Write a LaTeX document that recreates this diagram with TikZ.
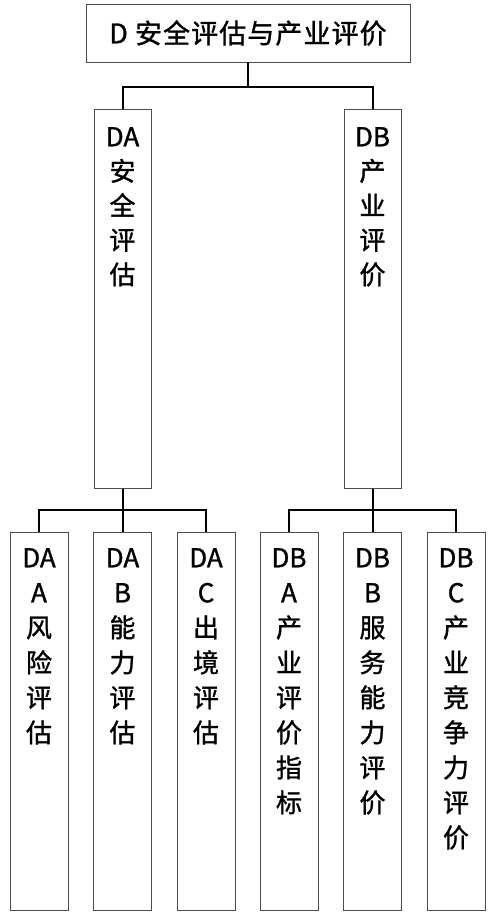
\documentclass[tikz,border=0pt]{standalone}
\usepackage{fontspec}
\newfontfamily\cjk[FakeBold=1.2]{Noto Sans CJK SC}
\tikzset{
  box/.style={draw=black!70, line width=0.9pt, fill=white, inner sep=0pt},
  lbl/.style={inner sep=0pt, align=center, anchor=north, font=\cjk\fontsize{26}{35}\selectfont},
  plbl/.style={inner sep=0pt, align=center, anchor=north, font=\cjk\fontsize{26}{34.5}\selectfont},
  conn/.style={draw=black, line width=2pt}
}
\begin{document}
\begin{tikzpicture}[x=1pt,y=-1pt]
\useasboundingbox[fill=white] (0,0) rectangle (498,924);
% boxes
\node[box, minimum width=324pt, minimum height=58pt, font=\cjk\fontsize{27}{30}\selectfont\addfontfeatures{LetterSpace=4}] (D) at (248,33) {D 安全评估与产业评价};
\node[box, minimum width=57pt, minimum height=379pt, anchor=north] (DA) at (122.5,109) {};
\node[box, minimum width=57pt, minimum height=379pt, anchor=north] (DB) at (372.5,109) {};
\node[box, minimum width=58pt, minimum height=378pt, anchor=north] (DAA) at (39,532) {};
\node[box, minimum width=58pt, minimum height=378pt, anchor=north] (DAB) at (122.5,532) {};
\node[box, minimum width=58pt, minimum height=378pt, anchor=north] (DAC) at (206,532) {};
\node[box, minimum width=58pt, minimum height=378pt, anchor=north] (DBA) at (289,532) {};
\node[box, minimum width=58pt, minimum height=378pt, anchor=north] (DBB) at (372.5,532) {};
\node[box, minimum width=58pt, minimum height=378pt, anchor=north] (DBC) at (456,532) {};
% labels
\node[plbl] (tDA) at (122.5,127) {DA\\安\\全\\评\\估};
\node[plbl] (tDB) at (372.5,127) {DB\\产\\业\\评\\价};
\node[lbl] (tDAA) at (39,548) {DA\\A\\风\\险\\评\\估};
\node[lbl] (tDAB) at (122.5,548) {DA\\B\\能\\力\\评\\估};
\node[lbl] (tDAC) at (206,548) {DA\\C\\出\\境\\评\\估};
\node[lbl] (tDBA) at (289,548) {DB\\A\\产\\业\\评\\价\\指\\标};
\node[lbl] (tDBB) at (372.5,548) {DB\\B\\服\\务\\能\\力\\评\\价};
\node[lbl] (tDBC) at (456,548) {DB\\C\\产\\业\\竞\\争\\力\\评\\价};
% connectors
\coordinate (j0) at (248,87);
\coordinate (jA) at (122.5,510);
\coordinate (jB) at (372.5,510);
\draw[conn] (D.south) -- (j0);
\draw[conn] (j0) -| (DA.north);
\draw[conn] (j0) -| (DB.north);
\draw[conn] (DA.south) -- (jA);
\draw[conn] (jA) -| (DAA.north);
\draw[conn] (jA) -- (DAB.north);
\draw[conn] (jA) -| (DAC.north);
\draw[conn] (DB.south) -- (jB);
\draw[conn] (jB) -| (DBA.north);
\draw[conn] (jB) -- (DBB.north);
\draw[conn] (jB) -| (DBC.north);
\end{tikzpicture}
\end{document}
